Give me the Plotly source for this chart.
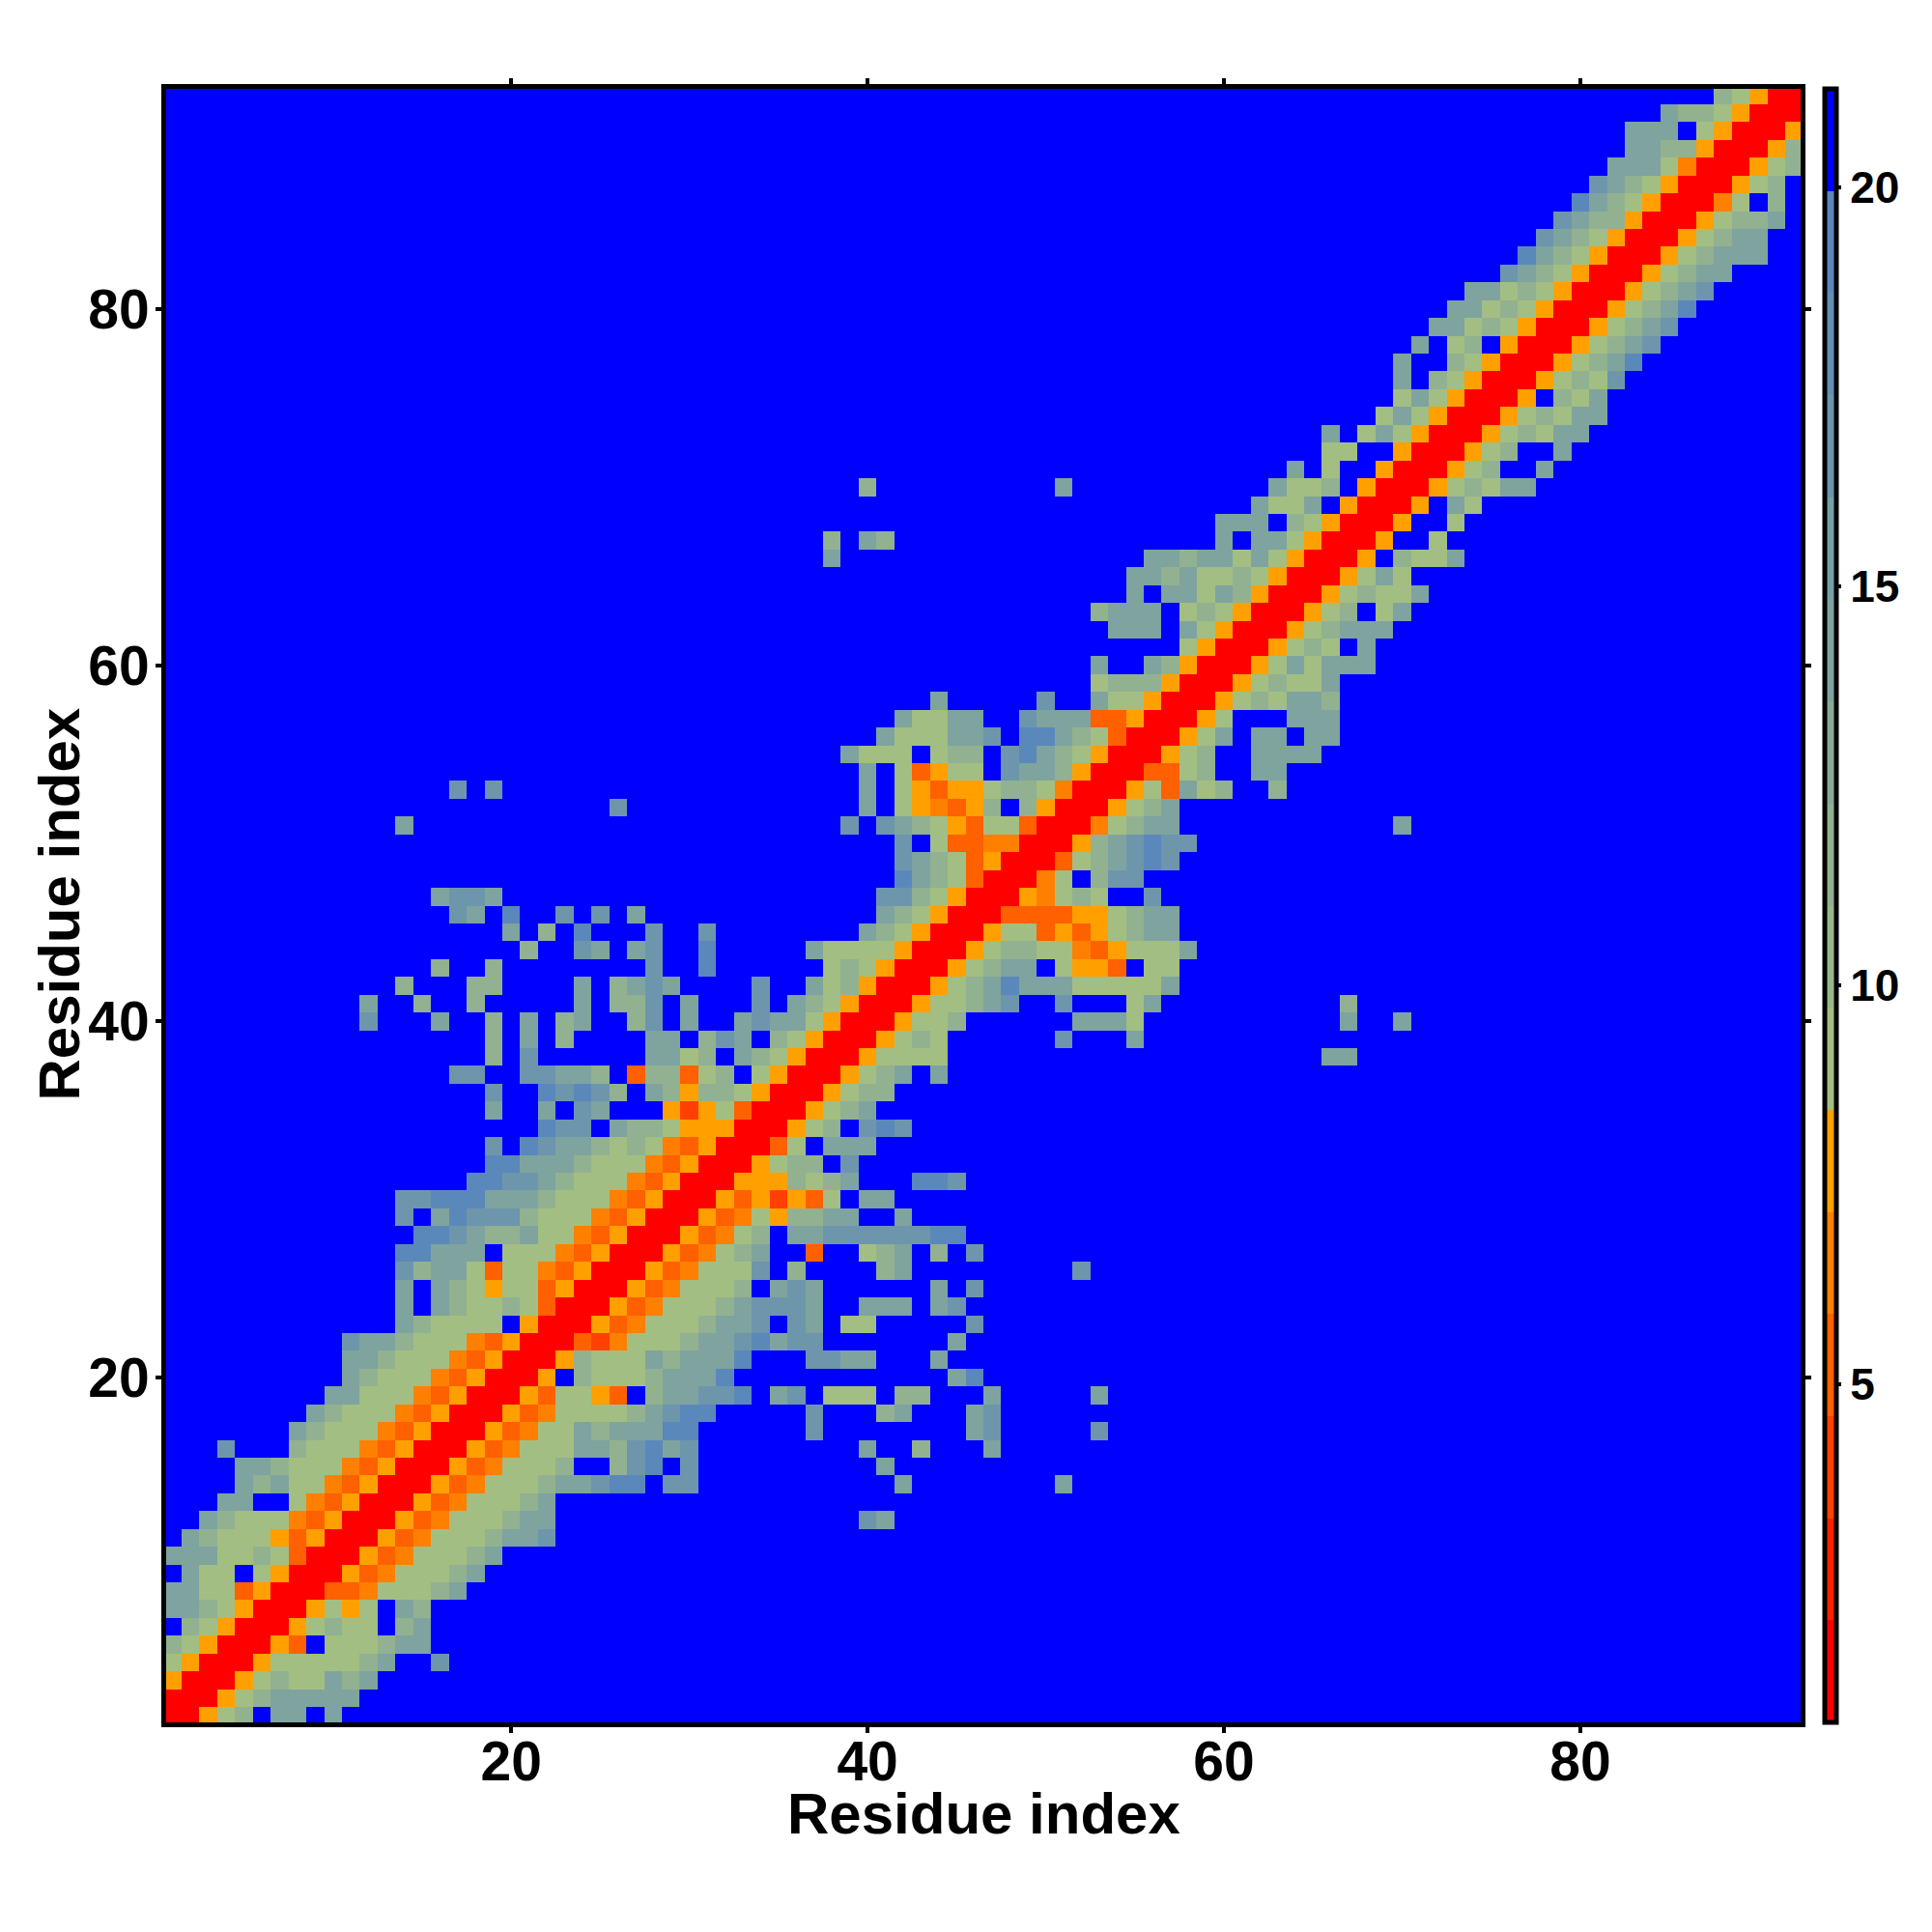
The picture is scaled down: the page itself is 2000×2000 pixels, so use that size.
import plotly.graph_objects as go

# Residue indices
residues = list(range(1, 93))
tick_values = [20, 40, 60, 80]
colorbar_ticks = [5, 10, 15, 20]

# Colour bin of each drawn cell: "column:bins" per row, row 1 first.
# 0 = nearest bin (red) ... e = farthest drawn bin (steel blue), . or absent = f (blue)
distance_rows = [
    "1:00568.aa.a",
    "1:000568aaaaa",
    "1:500056866a8a",
    "1:650005666668a..c",
    "1:86500053.6668aa",
    "1:.86500056866.8a",
    "1:aa8650005656.a8",
    "1:aa66350003346668a",
    "1:.a66.650005346668a",
    "1:aaa668630005346668a",
    "1:.a86665350005346668aac",
    "1:..a86664350005346668aa 40:ca",
    "1:...aa..64350005346668a",
    "5:a8a664350005346668aacee.cc 42:a 51:a",
    "5:aa86664350005346668..8ce.c 41:a",
    "4:c 8:8666435000534666aa8ceac 40:a 43:8 47:a",
    "8:a866643500053466a8aaaee 37:c 46:ac 53:c",
    "9:a866643500053466668acee 37:c 41:8a 46:ac",
    "10:aa666435000536653.8aacce.ac.666.88 47:a 53:a",
    "11:a86664350005.86668aaae 45:ae",
    "11:aa866643500058666a8aaae 37:ccaa 44:a",
    "11:caa86664350003246668aaceacc 45:a",
    "14:a86666.50005346668aac.ca 39:66 46:c",
    "14:a.a8668630005346668accca 40:aaa 44:ac",
    "14:a.a86566350005346668.aca 44:a 46:c",
    "14:c8aa6366435000534666c.8 41:8a 52:c",
    "14:eeaaa.66643500053468a 37:3 40:68a 44:8 46:c",
    "15:eeca88a6643500053468.aaccccccee",
    "14:c.aeccc86664350005346588aa..a",
    "14:cceeeaaa86664350005352536.aa",
    "18:eecca8666435000555868a 43:eec",
    "19:eeaaa86664350005688.c",
    "19:c.ecaa868643500036.aaa",
    "22:ecc.a886555000568.cec",
    "19:a 22:a.ca...52563000568a",
    "19:c 22:ecec8.a8588650005688",
    "17:cc 21:ccaa8.388368.65000568a.a",
    "19:8 21:c 28:aa68.a86500056666 66:aa",
    "19:8 21:a 23:8 28:aa.8ca.8650005686 51:c 55:a",
    "12:c 16:a 19:8 21:a 23:8a 27:8c.a..acaa650005668 52:aaa6 67:a 70:a",
    "12:a 15:8 18:8 24:a 26:88c.a 34:c 36:a8650005668ac 51:c 55:6a 67:8",
    "14:8 18:88 24:a 26:8aca 34:c 37:a685000568aeaaa66666a",
    "16:8 19:8 28:c 31:e 38:6865000568aa.6553.66",
    "21:8 24:ca 27:ac 31:e 37:a66665000568866435666a",
    "20:a 22:8 24:e 28:c 31:c 40:a865000566353568aa",
    "17:ca 20:e 23:c 25:c 27:a 41:a86500033335568aa",
    "16:acca 41:cc86500054686 56:c",
    "42:ea86300046.8cc",
    "42:ca8635000368acec",
    "42:c.6334400058acecc",
    "14:a 39:c 41:ca8653663000468aa 70:a",
    "26:c 40:a 42:654358.85000568a",
    "17:c 19:c 40:a 42:6535568864000563a68 63:8",
    "40:a 42:63566.caa850003368 62:aa",
    "39:a666.688.cea865000568 62:aaaa",
    "41:a666aac.eea86300056a.aa.aa",
    "42:a66aa..caaa33500056 64:aaa",
    "44:a 50:c 53:a6650005686aa8",
    "53:6888500056866a",
    "53:a 56:a8500056a6aaa",
    "58:650005686.a",
    "54:aaa 58:a65000568aaa",
    "53:8aaa 58:6865000568.6a",
    "55:a 57:aa6a8500056866a",
    "55:aa8a6686500056a6",
    "38:a 56:aa8aa6a650005.866a",
    "38:8 40:a8 60:a.aa650005 72:6",
    "60:aaa.8650005 73:6",
    "62:a66a.50005.a6",
    "40:8 51:a 63:a668.50005686aa",
    "64:a.6..5000568..a",
    "66:66..5000568..a",
    "66:a.6a650005686aa",
    "69:6a650005686aa",
    "70:6a650005.86a",
    "70:a.8650005686c",
    "70:a 73:865000568ae",
    "71:a 73:68.5000568ac",
    "72:aa6865000568ac",
    "73:aa6865000568ae",
    "74:aa6865000568ac",
    "76:ca865000568aa",
    "77:ea865000568aaa",
    "78:ca865000568aa",
    "79:ca8850005688a",
    "80:ea86500046.8",
    "81:ca865000568",
    "82:aaa64000568",
    "83:aa88500058",
    "83:aaa.650005",
    "85:a8865000",
    "88:86500",
]

# Colour-bar range and its 16 bins
z_min = 0.76
z_max = 21.24
bin_colors = [
    "#ff0000", "#ff2000", "#ff4000", "#ff6000", "#ff8000", "#ffa000",
    "#a3be83", "#9ab78a", "#92b191", "#89aa98", "#7fa39f", "#76a0a6",
    "#6d96ac", "#648fb3", "#5b88ba", "#0000ff",
]

n_bins = len(bin_colors)
bin_width = (z_max - z_min) / n_bins

z = [[z_min + bin_width * 15.5 for _ in residues] for _ in residues]
for row_index, row in enumerate(distance_rows):
    for segment in row.split():
        start, cells = segment.split(":")
        col = int(start) - 1
        for code in cells:
            if code != ".":
                z[row_index][col] = z_min + bin_width * (int(code, 16) + 0.5)
            col += 1

colorscale = []
for i, color in enumerate(bin_colors):
    colorscale.append([i / n_bins, color])
    colorscale.append([(i + 1) / n_bins, color])

LEFT, RIGHT, TOP, BOTTOM = 171.5, 1864.5, 91.5, 1783.5
inset = 2.5 / 18.45
axis_range = [0.5 + inset, 92.5 - inset]
FONT = "Liberation Sans"
TITLE_FONT = dict(family=FONT, size=60, color="black", weight="bold")

fig = go.Figure(
    go.Heatmap(
        x=residues,
        y=residues,
        z=z,
        zmin=z_min,
        zmax=z_max,
        colorscale=colorscale,
        hoverinfo="skip",
        colorbar=dict(
            x=(1889.5 - LEFT) / (RIGHT - LEFT),
            xanchor="left",
            xpad=0,
            ypad=0,
            y=0.5,
            yanchor="middle",
            len=1,
            thickness=12,
            outlinewidth=5,
            outlinecolor="black",
            borderwidth=0,
            ticks="outside",
            ticklen=3,
            tickwidth=4,
            tickcolor="black",
            tickvals=colorbar_ticks,
            ticktext=[str(t) for t in colorbar_ticks],
            tickfont=dict(family=FONT, size=46, color="black", weight="bold"),
        ),
    )
)

axis_style = dict(
    range=axis_range,
    tickvals=tick_values,
    ticktext=[str(t) for t in tick_values],
    ticks="outside",
    ticklen=6,
    tickwidth=4,
    tickcolor="black",
    showline=True,
    linewidth=5,
    linecolor="black",
    mirror="all",
    showgrid=False,
    zeroline=False,
    tickfont=dict(family=FONT, size=57, color="black", weight="bold"),
)

fig.update_layout(
    width=2000,
    height=2000,
    autosize=False,
    paper_bgcolor="white",
    plot_bgcolor="white",
    margin=dict(l=LEFT, r=2000 - RIGHT, t=TOP, b=2000 - BOTTOM, pad=0),
    xaxis=dict(**axis_style, ticklabelstandoff=-19),
    yaxis=dict(**axis_style, ticklabelstandoff=-5),
    annotations=[
        dict(
            text="Residue index", showarrow=False, font=TITLE_FONT,
            xref="paper", yref="paper", xanchor="center", yanchor="middle",
            x=0.5, y=(BOTTOM - 1878) / (BOTTOM - TOP),
        ),
        dict(
            text="Residue index", showarrow=False, font=TITLE_FONT, textangle=-90,
            xref="paper", yref="paper", xanchor="center", yanchor="middle",
            x=(60 - LEFT) / (RIGHT - LEFT), y=(BOTTOM - 936) / (BOTTOM - TOP),
        ),
    ],
)

fig.write_html(
    "out.html",
    config={"displayModeBar": False},
    post_script="document.body.style.margin='0';",
)
